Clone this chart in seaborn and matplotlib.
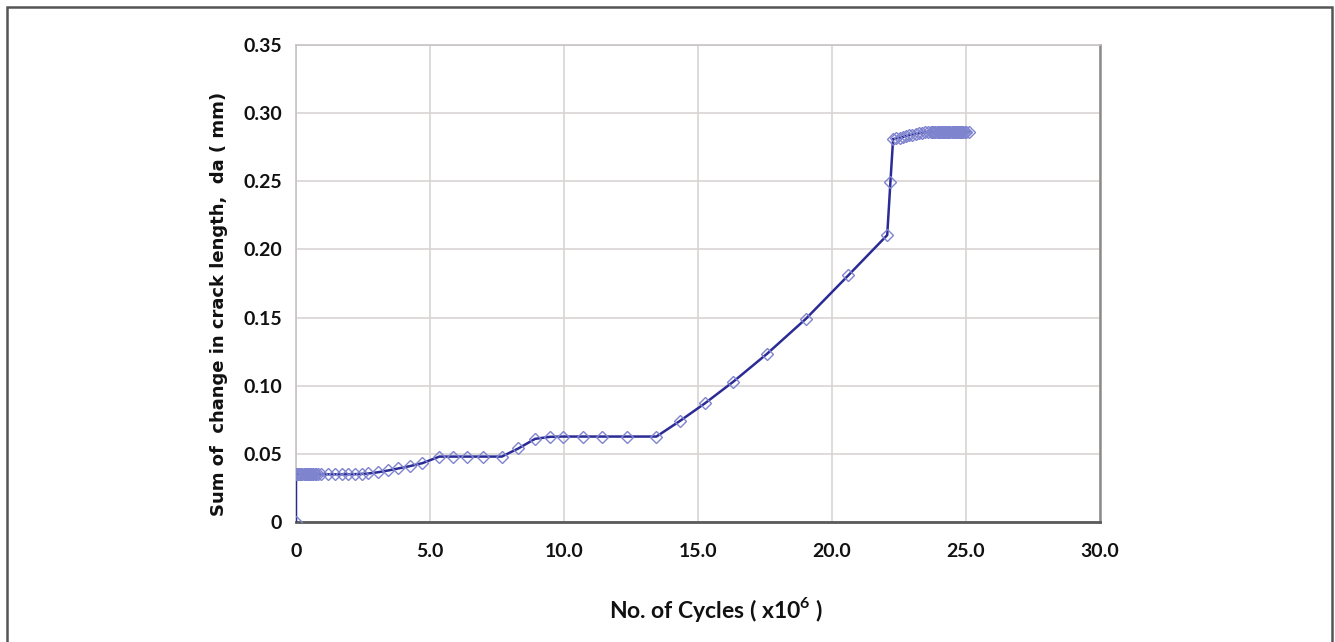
import matplotlib
matplotlib.use("Agg")
import matplotlib.pyplot as plt
import matplotlib.patches as mpatches
import seaborn as sns
import pandas as pd

# Cycles (x10^6) and accumulated crack growth da (mm)
cycles = [
    0.00, 0.00, 0.04, 0.08, 0.12, 0.16, 0.20, 0.24, 0.28, 0.32, 0.36,
    0.40, 0.44, 0.48, 0.52, 0.56, 0.60, 0.65, 0.70, 0.75, 0.82,
    0.95, 1.20, 1.45, 1.70, 1.95, 2.20, 2.45, 2.70,
    3.06, 3.44, 3.82, 4.25, 4.72, 5.35, 5.87, 6.37,
    6.97, 7.68, 8.30, 8.92, 9.48, 9.97, 10.70, 11.40,
    12.35, 13.45, 14.33, 15.26, 16.32, 17.58, 19.02, 20.61,
    22.06, 22.18, 22.28, 22.40, 22.52, 22.64, 22.76, 22.88,
    23.00, 23.12, 23.24, 23.36, 23.48, 23.60, 23.70, 23.74,
    23.78, 23.82, 23.86, 23.90, 23.94, 23.98, 24.02, 24.06,
    24.10, 24.14, 24.18, 24.22, 24.26, 24.30, 24.34, 24.38,
    24.42, 24.46, 24.50, 24.54, 24.58, 24.62, 24.66, 24.70,
    24.74, 24.78, 24.82, 24.86, 24.90, 24.95, 25.00, 25.12,
]
crack_growth = [
    0.0000, 0.0350, 0.0350, 0.0350, 0.0350, 0.0350, 0.0350, 0.0350, 0.0350, 0.0350, 0.0350,
    0.0350, 0.0350, 0.0350, 0.0350, 0.0350, 0.0350, 0.0350, 0.0350, 0.0350, 0.0350,
    0.0350, 0.0350, 0.0350, 0.0350, 0.0350, 0.0351, 0.0353, 0.0356,
    0.0365, 0.0378, 0.0393, 0.0410, 0.0432, 0.0480, 0.0480, 0.0480,
    0.0480, 0.0480, 0.0540, 0.0610, 0.0625, 0.0627, 0.0627, 0.0627,
    0.0627, 0.0627, 0.0742, 0.0871, 0.1030, 0.1235, 0.1490, 0.1810,
    0.2105, 0.2495, 0.2810, 0.2815, 0.2820, 0.2825, 0.2832, 0.2838,
    0.2843, 0.2848, 0.2852, 0.2856, 0.2859, 0.2861, 0.2862, 0.2862,
    0.2862, 0.2862, 0.2862, 0.2862, 0.2862, 0.2862, 0.2862, 0.2862,
    0.2862, 0.2862, 0.2862, 0.2862, 0.2862, 0.2862, 0.2862, 0.2862,
    0.2862, 0.2862, 0.2862, 0.2862, 0.2862, 0.2862, 0.2862, 0.2862,
    0.2862, 0.2862, 0.2862, 0.2862, 0.2862, 0.2862, 0.2862, 0.2862,
]

x_ticks = [0, 5, 10, 15, 20, 25, 30]
x_tick_labels = ["0", "5.0", "10.0", "15.0", "20.0", "25.0", "30.0"]
y_ticks = [0, 0.05, 0.10, 0.15, 0.20, 0.25, 0.30, 0.35]
y_tick_labels = ["0", "0.05", "0.10", "0.15", "0.20", "0.25", "0.30", "0.35"]

df = pd.DataFrame({"cycles": cycles, "da": crack_growth})

sns.set_theme(style="white")
plt.rcParams["font.family"] = ["Lato", "DejaVu Sans"]
plt.rcParams["mathtext.fontset"] = "custom"
plt.rcParams["mathtext.rm"] = "Lato"
plt.rcParams["mathtext.bf"] = "Lato:bold"

fig = plt.figure(figsize=(13.35, 6.42), dpi=100)
ax = fig.add_axes([296 / 1335, 1 - 522 / 642, 804 / 1335, 477 / 642])

line_color = "#2b2b95"
marker_edge = "#7f84cf"

sns.lineplot(
    data=df, x="cycles", y="da", ax=ax, sort=False, estimator=None,
    color=line_color, linewidth=1.8, marker="D", markersize=6.5,
    markerfacecolor="none", markeredgecolor=marker_edge, markeredgewidth=1.0,
    zorder=3,
)

ax.set_xlim(0, 30)
ax.set_ylim(0, 0.35)
ax.set_xticks(x_ticks)
ax.set_xticklabels(x_tick_labels)
ax.set_yticks(y_ticks)
ax.set_yticklabels(y_tick_labels)

grid_color = "#d9d4d4"
ax.grid(True, color=grid_color, linewidth=1.2)
ax.set_axisbelow(True)

for side in ["top", "left"]:
    ax.spines[side].set_color("#c9c4c4")
    ax.spines[side].set_linewidth(1.2)
ax.spines["right"].set_color("#8f8a8a")
ax.spines["right"].set_linewidth(1.8)
ax.spines["bottom"].set_color("#5a5a5a")
ax.spines["bottom"].set_linewidth(2.0)

ax.tick_params(axis="both", which="major", direction="out", length=5,
               width=1, color="#808080", labelsize=14)
ax.tick_params(axis="y", pad=5)
ax.tick_params(axis="x", pad=10)
for lbl in ax.get_xticklabels() + ax.get_yticklabels():
    lbl.set_fontweight("bold")
    lbl.set_color("#111111")

ax.set_xlabel(r"No. of Cycles ( x10$^{\mathbf{6}}$ )", fontsize=16.5,
              fontweight="bold", color="#111111")
ax.xaxis.set_label_coords(0.522, -0.153)
ax.set_ylabel("Sum of  change in crack length,  da ( mm)", fontsize=13,
              fontweight="bold", color="#111111", family="DejaVu Sans")
ax.yaxis.set_label_coords(-0.085, 0.457)

# outer frame around the figure
frame = mpatches.Rectangle((7 / 1335, -0.05), 1325 / 1335, 1.05 - 7 / 642,
                           transform=fig.transFigure, fill=False,
                           edgecolor="#555555", linewidth=1.8)
fig.patches.append(frame)

fig.savefig("out.png", dpi=100)
